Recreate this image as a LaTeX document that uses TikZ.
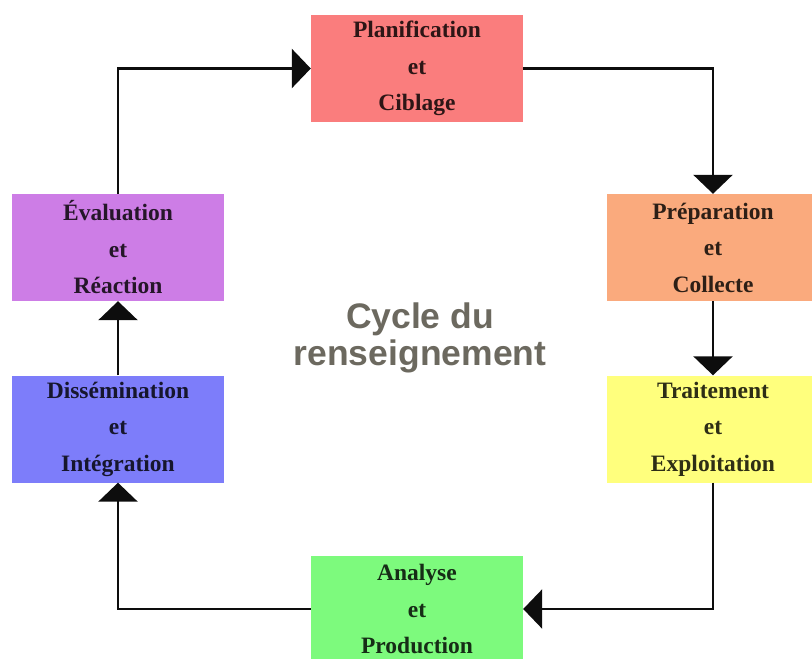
\documentclass[tikz,border=0pt]{standalone}
\usepackage{fontspec}
\setmainfont{Liberation Serif}
\newfontfamily\ctrfont{Liberation Sans}
\usetikzlibrary{arrows.meta}
\definecolor{cplan}{RGB}{250,125,125}
\definecolor{cprep}{RGB}{250,170,125}
\definecolor{ctrait}{RGB}{255,255,125}
\definecolor{cana}{RGB}{125,250,125}
\definecolor{cdiss}{RGB}{125,125,250}
\definecolor{ceval}{RGB}{205,125,230}
\definecolor{ctitle}{RGB}{108,105,95}
\tikzset{
  stagebox/.style={fill=#1, text=black!82!#1, minimum width=212pt, minimum height=107pt,
    inner sep=0pt, align=center, font=\fontsize{23.5}{36.5}\selectfont\bfseries},
  flow/.style={draw=black!95, line width=2.8pt, -{Triangle[width=39pt,length=19pt]}},
  titletext/.style={text=ctitle, align=center, font=\ctrfont\fontsize{35.5}{37}\selectfont\bfseries}
}
\begin{document}
\begin{tikzpicture}[x=1pt,y=-1pt]
\useasboundingbox (0,0) rectangle (812,659);
\node[stagebox=cplan] (plan) at (417,68.5) {Planification\\et\\Ciblage};
\node[stagebox=cprep] (prep) at (713,247.5) {Préparation\\et\\Collecte};
\node[stagebox=ctrait] (trait) at (713,429) {Traitement\\et\\Exploitation};
\node[stagebox=cana] (ana) at (417,609) {Analyse\\et\\Production};
\node[stagebox=cdiss] (diss) at (118,429) {Dissémination\\et\\Intégration};
\node[stagebox=ceval] (eval) at (118,247.5) {Évaluation\\et\\Réaction};
\node[titletext] (title) at (420,338) {Cycle du\\renseignement};
\draw[flow] (plan.east) -| (prep.north);
\draw[flow] (prep.south) -- (trait.north);
\draw[flow] (trait.south) |- (ana.east);
\draw[flow] (ana.west) -| (diss.south);
\draw[flow] (diss.north) -- (eval.south);
\draw[flow] (eval.north) |- (plan.west);
\end{tikzpicture}
\end{document}
